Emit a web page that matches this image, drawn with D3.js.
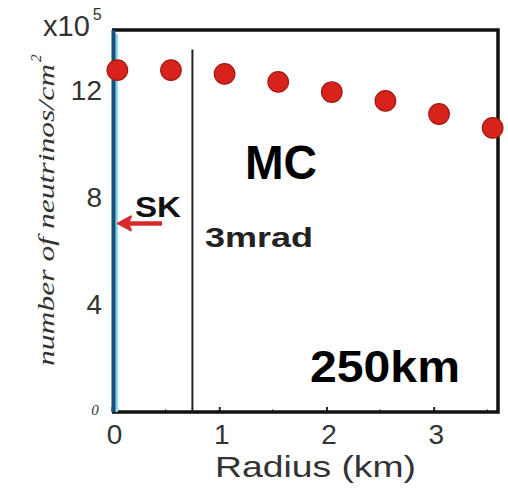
<!DOCTYPE html>
<html>
<head>
<meta charset="utf-8">
<script src="https://cdn.jsdelivr.net/npm/d3@7"></script>
<style>
  html, body { margin: 0; padding: 0; background: #fff; }
  svg { display: block; }
</style>
</head>
<body>
<svg id="chart" width="508" height="488"></svg>
<script>
// Neutrino flux (x10^5 per cm^2) versus radius from the beam axis, MC at 250 km
const radiusKm = [0.05, 0.55, 1.05, 1.55, 2.05, 2.55, 3.05, 3.55];
const fluxE5 = [12.78, 12.78, 12.64, 12.34, 11.96, 11.63, 11.14, 10.62];
const xTicks = [0, 1, 2, 3];
const yTicks = [4, 8, 12];
const skRadius = 0;      // SK detector on the beam axis
const mradRadius = 0.75; // 3 mrad off-axis radius
const mradTop = 13.55;
const skArrowY = 7.05;

(function () {
const svg = d3.select("#chart");
const pLeft = 112, pRight = 498, pTop = 30, pBottom = 412;

const x = d3.scaleLinear().domain([0, 3.6]).range([pLeft, pRight]);
const y = d3.scaleLinear().domain([0, 14.28]).range([pBottom, pTop]);

const sans = "'Liberation Sans', Arial, sans-serif";
const serif = "'Liberation Serif', 'Times New Roman', serif";

// x axis: inward ticks, labels below
const xAxis = d3.axisBottom(x).tickValues(xTicks).tickSize(-5).tickPadding(12)
  .tickFormat(d3.format("d"));
const gx = svg.append("g").attr("transform", `translate(0,${pBottom})`).call(xAxis);
gx.select(".domain").remove();
gx.selectAll(".tick line").attr("stroke", "#222").attr("stroke-width", 2);
gx.selectAll(".tick text").attr("font-family", sans).attr("font-size", 28)
  .attr("fill", "#333").attr("dx", 2);
// x minor ticks
svg.append("g").selectAll("line").data([0.5, 1.5, 2.5, 3.5]).join("line")
  .attr("x1", d => x(d)).attr("x2", d => x(d))
  .attr("y1", pBottom).attr("y2", pBottom - 3)
  .attr("stroke", "#555").attr("stroke-width", 1);

// y axis: tiny inward ticks, labels left
const yAxis = d3.axisLeft(y).tickValues(yTicks).tickSize(-3).tickPadding(12)
  .tickFormat(d3.format("d"));
const gy = svg.append("g").attr("transform", `translate(${pLeft + 3},0)`).call(yAxis);
gy.select(".domain").remove();
gy.selectAll(".tick line").attr("stroke", "#223").attr("stroke-width", 2);
gy.selectAll(".tick text").attr("font-family", sans).attr("font-size", 28)
  .attr("fill", "#333").attr("x", -13);

// small italic zero at the origin
svg.append("text").attr("x", 95).attr("y", y(0) + 3)
  .attr("text-anchor", "middle")
  .attr("font-family", serif).attr("font-style", "italic")
  .attr("font-size", 15).attr("fill", "#333").text("0");

// multiplier
const mult = svg.append("text").attr("x", 43).attr("y", 36)
  .attr("font-family", sans).attr("font-size", 29).attr("fill", "#333");
mult.append("tspan").text("x10");
mult.append("tspan").attr("font-size", 16).attr("dy", -16).attr("dx", 3).text("5");

// y title
const yt = svg.append("text")
  .attr("transform", `translate(54,${366}) rotate(-90)`)
  .attr("font-family", serif)
  .attr("font-style", "italic").attr("font-size", 24).attr("fill", "#333");
yt.append("tspan").attr("textLength", 302).attr("lengthAdjust", "spacingAndGlyphs")
  .text("number of neutrinos/cm");
yt.append("tspan").attr("font-size", 15).attr("dy", -13).attr("dx", 2).text("2");

// x title
svg.append("text").attr("x", 215).attr("y", 477)
  .attr("font-family", sans).attr("font-size", 30).attr("fill", "#333")
  .attr("textLength", 201).attr("lengthAdjust", "spacingAndGlyphs")
  .text("Radius (km)");

// frame
svg.append("path")
  .attr("d", `M${pLeft},${pTop}H${pRight}V${pBottom}H${pLeft}`)
  .attr("fill", "none").attr("stroke", "#111").attr("stroke-width", 3.5);

// 3 mrad line
svg.append("line")
  .attr("x1", x(mradRadius)).attr("x2", x(mradRadius))
  .attr("y1", y(mradTop)).attr("y2", y(0))
  .attr("stroke", "#222").attr("stroke-width", 2);

// SK line on axis (dark blue with light halo)
svg.append("line")
  .attr("x1", x(skRadius) + 4.5).attr("x2", x(skRadius) + 4.5)
  .attr("y1", pTop + 4).attr("y2", pBottom)
  .attr("stroke", "#8fd8f2").attr("stroke-width", 3);
svg.append("line")
  .attr("x1", x(skRadius) + 1.5).attr("x2", x(skRadius) + 1.5)
  .attr("y1", pTop).attr("y2", pBottom)
  .attr("stroke", "#164f78").attr("stroke-width", 4);

// data points
svg.append("g").selectAll("circle").data(radiusKm).join("circle")
  .attr("cx", d => x(d)).attr("cy", (d, i) => y(fluxE5[i]))
  .attr("r", 10.3)
  .attr("fill", "#d8231c").attr("stroke", "#a01a14").attr("stroke-width", 1.2);

// SK arrow
const ay = y(skArrowY);
svg.append("line").attr("x1", 162).attr("x2", 126).attr("y1", ay).attr("y2", ay)
  .attr("stroke", "#d8282a").attr("stroke-width", 4.5);
svg.append("path")
  .attr("d", `M118,${ay} L131,${ay - 7} L128,${ay} L131,${ay + 7} Z`)
  .attr("fill", "#d8282a").attr("stroke", "#d8282a").attr("stroke-width", 2)
  .attr("stroke-linejoin", "round");

// annotations
svg.append("text").attr("x", 135).attr("y", 217)
  .attr("font-family", sans).attr("font-weight", "bold").attr("font-size", 29)
  .attr("fill", "#111").attr("textLength", 46).attr("lengthAdjust", "spacingAndGlyphs")
  .text("SK");
svg.append("text").attr("x", 205).attr("y", 247)
  .attr("font-family", sans).attr("font-weight", "bold").attr("font-size", 27)
  .attr("fill", "#222").attr("textLength", 108).attr("lengthAdjust", "spacingAndGlyphs")
  .text("3mrad");
svg.append("text").attr("x", 245).attr("y", 179)
  .attr("font-family", sans).attr("font-weight", "bold").attr("font-size", 48)
  .attr("fill", "#000").attr("textLength", 72).attr("lengthAdjust", "spacingAndGlyphs")
  .text("MC");
svg.append("text").attr("x", 310).attr("y", 382)
  .attr("font-family", sans).attr("font-weight", "bold").attr("font-size", 44)
  .attr("fill", "#000").attr("textLength", 150).attr("lengthAdjust", "spacingAndGlyphs")
  .text("250km");
})();
</script>
</body>
</html>
